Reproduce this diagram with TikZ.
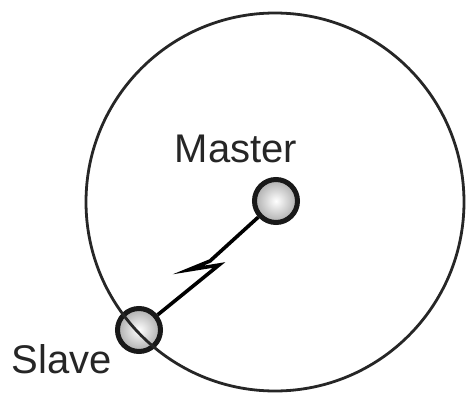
\documentclass[tikz,border=0pt]{standalone}
\usepackage{fontspec}
\setmainfont{Liberation Sans}
\begin{document}
\begin{tikzpicture}[
                x=1pt, y=-1pt,
                ball/.style={circle, draw=black!90, line width=5pt, minimum size=43pt, inner sep=0pt,
                             shading=radial, inner color=white, outer color=gray!65},
                zonering/.style={circle, draw=black!85, line width=2.8pt, minimum size=378pt, inner sep=0pt},
                tag/.style={anchor=base, inner sep=0pt, text=black!85, font=\fontsize{40}{48}\selectfont},
                link/.style={line width=3.6pt, line join=miter}
            ]
                \useasboundingbox (0,0) rectangle (467,394);
                \node[ball] (master) at (276,201) {};
                \node[ball] (slave) at (139,330) {};
                \node[zonering] (zone) at (275,202) {};
                \node[tag] (mastername) at (236,162) {Master};
                \node[tag] (slavename) at (62,373) {Slave};
                % bolt in the link
                \coordinate (b1) at (210,261);
                \coordinate (b2) at (188,270);
                \coordinate (b3) at (219,265);
                \draw[link] (master) -- (b1) -- (b2) -- (b3) -- (slave);
            \end{tikzpicture}
\end{document}
